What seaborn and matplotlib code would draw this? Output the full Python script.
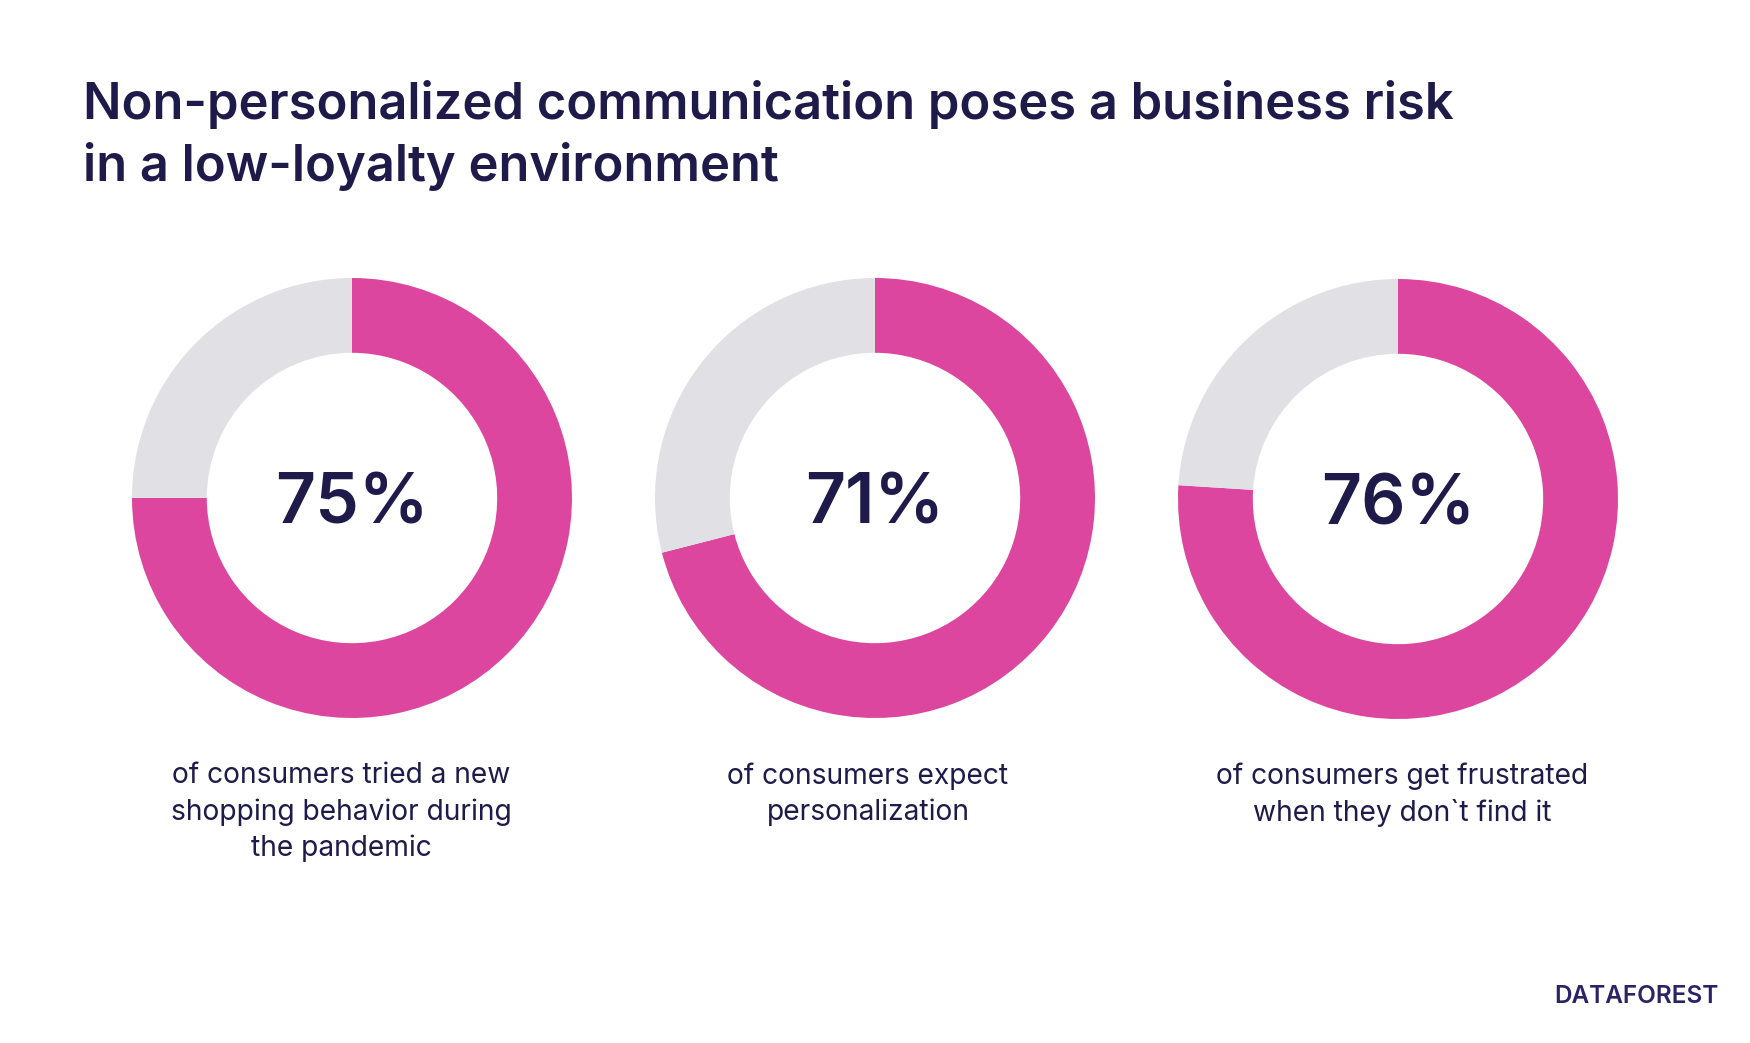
import matplotlib
matplotlib.use("Agg")
import matplotlib.pyplot as plt
import seaborn as sns

sns.set_theme(style="white")
plt.rcParams['font.family'] = ['Inter', 'DejaVu Sans']

# ---- data ----
title_lines = ["Non-personalized communication poses a business risk",
               "in a low-loyalty environment"]
percent_values = [75, 71, 76]
percent_labels = ["75%", "71%", "76%"]
captions = ["of consumers tried a new\nshopping behavior during\nthe pandemic",
            "of consumers expect\npersonalization",
            "of consumers get frustrated\nwhen they don`t find it"]
brand = "DATAFOREST"

PINK = "#DC469F"
GREY = "#E1E0E5"
NAVY = "#1E1B4B"

W, H = 1750, 1043
fig = plt.figure(figsize=(W / 100, H / 100), dpi=100)
fig.patch.set_facecolor("white")

# title
fig.text(83 / W, 1 - 119 / H, title_lines[0], fontsize=36.5, fontweight="semibold",
         color=NAVY, ha="left", va="baseline")
fig.text(83 / W, 1 - 181 / H, title_lines[1], fontsize=36.5, fontweight="semibold",
         color=NAVY, ha="left", va="baseline")

centers = [(352, 498), (875, 498), (1398, 499)]
R = 220
cap_x = [341, 868, 1402]

for (cx, cy), val, lab, cap, tx in zip(centers, percent_values, percent_labels, captions, cap_x):
    ax = fig.add_axes([(cx - R) / W, (H - cy - R) / H, 2 * R / W, 2 * R / H])
    ax.pie([val, 100 - val], colors=[PINK, GREY], startangle=90, counterclock=False,
           radius=1.0, wedgeprops=dict(width=0.34, linewidth=0, edgecolor="none"))
    ax.set_xlim(-1, 1)
    ax.set_ylim(-1, 1)
    ax.set_aspect("equal")
    ax.axis("off")
    ax.text(0.0, 0, lab, ha="center", va="center_baseline", fontsize=50,
            fontweight="semibold", color=NAVY)
    fig.text(tx / W, 1 - 762 / H, cap, ha="center", va="top", fontsize=20.3,
             color=NAVY, linespacing=1.42)

# brand mark
fig.text(1719 / W, 1 - 1003 / H, brand, ha="right", va="baseline", fontsize=17.5,
         fontweight="semibold", color="#2A2466")

fig.savefig("out.png", dpi=100, facecolor="white")
